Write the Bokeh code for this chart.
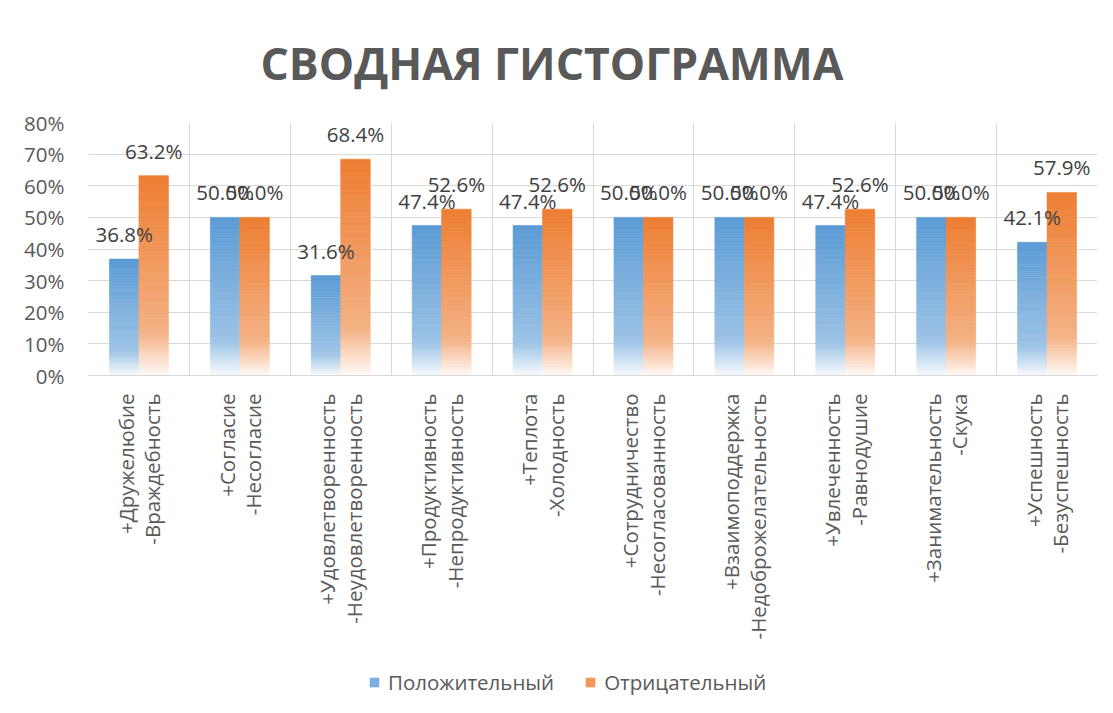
import math
from bokeh.plotting import figure
from bokeh.layouts import column
from bokeh.models import (ColumnDataSource, FixedTicker, NumeralTickFormatter,
                          Legend, LegendItem, Range1d)
from bokeh.core.properties import value
from bokeh.embed import file_html
from bokeh.resources import INLINE

# ---------------- data ----------------
categories = [
    "+Дружелюбие\n-Враждебность",
    "+Согласие\n-Несогласие",
    "+Удовлетворенность\n-Неудовлетворенность",
    "+Продуктивность\n-Непродуктивность",
    "+Теплота\n-Холодность",
    "+Сотрудничество\n-Несогласованность",
    "+Взаимоподдержка\n-Недоброжелательность",
    "+Увлеченность\n-Равнодушие",
    "+Занимательность\n-Скука",
    "+Успешность\n-Безуспешность",
]
positive = [0.368, 0.500, 0.316, 0.474, 0.474, 0.500, 0.500, 0.474, 0.500, 0.421]
negative = [0.632, 0.500, 0.684, 0.526, 0.526, 0.500, 0.500, 0.526, 0.500, 0.579]
series_names = ["Положительный", "Отрицательный"]
y_ticks = [0.0, 0.1, 0.2, 0.3, 0.4, 0.5, 0.6, 0.7, 0.8]
title_text = "СВОДНАЯ ГИСТОГРАММА"

BLUE = (0x5B, 0x9B, 0xD5)
ORANGE = (0xED, 0x7D, 0x31)
FONT = "Open Sans"
FS = "20.5px"
BAR_W = 0.292
N_SEG = 60
W = 1105


def mix(c, f):
    r, g, b = (round(ch + (255 - ch) * f) for ch in c)
    return "#%02x%02x%02x" % (r, g, b)


def white_frac(t):
    # t: 0 at bar top, 1 at bar bottom
    if t <= 0.78:
        return 0.40 * t / 0.78
    return 0.40 + (0.96 - 0.40) * (t - 0.78) / 0.22


def segments(values, shift, base):
    xs, bots, tops, cols = [], [], [], []
    for i, v in enumerate(values):
        for k in range(N_SEG):
            xs.append(i + 0.5 + shift)
            bots.append(v * k / N_SEG)
            tops.append(v * (k + 1) / N_SEG)
            t = 1 - (k + 0.5) / N_SEG
            cols.append(mix(base, white_frac(t)))
    return ColumnDataSource(dict(x=xs, bottom=bots, top=tops, color=cols))


p = figure(width=W, height=655, output_backend="svg", toolbar_location=None,
           x_range=Range1d(0, len(categories)), y_range=Range1d(0, 0.8),
           min_border_left=88, min_border_right=8, min_border_top=122,
           min_border_bottom=280)
p.outline_line_color = None
p.background_fill_color = "white"
p.border_fill_color = "white"

# title
p.title.text = title_text
p.title.align = "left"
p.title.offset = 172
p.title.text_font = FONT
p.title.text_font_size = "44.5px"
p.title.text_font_style = "bold"
p.title.text_color = "#595959"
p.title.standoff = 59

src_pos = segments(positive, -BAR_W / 2, BLUE)
src_neg = segments(negative, BAR_W / 2, ORANGE)
r_pos = p.vbar(x="x", bottom="bottom", top="top", width=BAR_W, source=src_pos,
               fill_color="color", line_color="color", line_width=0.6)
r_neg = p.vbar(x="x", bottom="bottom", top="top", width=BAR_W, source=src_neg,
               fill_color="color", line_color="color", line_width=0.6)

# data labels
lab_src = ColumnDataSource(dict(
    x=[i + 0.5 - BAR_W / 2 for i in range(len(categories))] +
      [i + 0.5 + BAR_W / 2 for i in range(len(categories))],
    y=positive + negative,
    text=["%.1f%%" % (v * 100) for v in positive + negative],
))
p.text(x="x", y="y", text="text", source=lab_src, text_align="center",
       text_baseline="middle", y_offset=-25, text_font=value(FONT),
       text_font_size=FS, text_color="#404040")

# axes
p.yaxis.ticker = FixedTicker(ticks=y_ticks)
p.yaxis.formatter = NumeralTickFormatter(format="0%")
p.yaxis.axis_line_color = None
p.yaxis.major_tick_line_color = None
p.yaxis.minor_tick_line_color = None
p.yaxis.major_label_text_font = FONT
p.yaxis.major_label_text_font_size = FS
p.yaxis.major_label_text_color = "#595959"
p.yaxis.major_label_standoff = 18

cat_ticks = [i + 0.5 for i in range(len(categories))]
p.xaxis.ticker = FixedTicker(ticks=cat_ticks)
p.xaxis.major_label_overrides = {t: c for t, c in zip(cat_ticks, categories)}
p.xaxis.major_label_orientation = math.pi / 2
p.xaxis.axis_line_color = "#D9D9D9"
p.xaxis.major_tick_line_color = None
p.xaxis.minor_tick_line_color = None
p.xaxis.major_label_text_font = FONT
p.xaxis.major_label_text_font_size = FS
p.xaxis.major_label_text_color = "#595959"
p.xaxis.major_label_standoff = 12
p.xaxis.major_label_text_line_height = 0.95

p.xgrid.ticker = FixedTicker(ticks=list(range(len(categories) + 1)))
p.xgrid.grid_line_color = "#D9D9D9"
p.ygrid.grid_line_color = "#D9D9D9"

# legend strip (separate figure below the chart); its renderers hold the
# series values, but the strip's y range lies far above them, so only the
# legend swatches show
lp = figure(width=W, height=50, output_backend="svg", toolbar_location=None,
            x_range=Range1d(-0.5, len(categories) - 0.5), y_range=Range1d(10, 11),
            min_border_left=0, min_border_right=0, min_border_top=0,
            min_border_bottom=0)
lp.axis.visible = False
lp.grid.visible = False
lp.outline_line_color = None
lp.border_fill_color = "white"
lg_pos = lp.vbar(x=list(range(len(positive))), top=positive, width=0.5,
                 fill_color=mix(BLUE, 0.2), line_color=None)
lg_neg = lp.vbar(x=list(range(len(negative))), top=negative, width=0.5,
                 fill_color=mix(ORANGE, 0.2), line_color=None)
legend = Legend(items=[
    LegendItem(label=series_names[0], renderers=[lg_pos]),
    LegendItem(label=series_names[1], renderers=[lg_neg]),
], orientation="horizontal", location=(280, 9),
    label_text_font=FONT, label_text_font_size=FS, label_text_color="#595959",
    glyph_width=12, glyph_height=12, spacing=30, padding=0, margin=0,
    border_line_color=None, background_fill_alpha=0, label_standoff=8)
lp.add_layout(legend, "center")

layout = column(p, lp, spacing=0)
open("out.html", "w").write(file_html(layout, INLINE))
